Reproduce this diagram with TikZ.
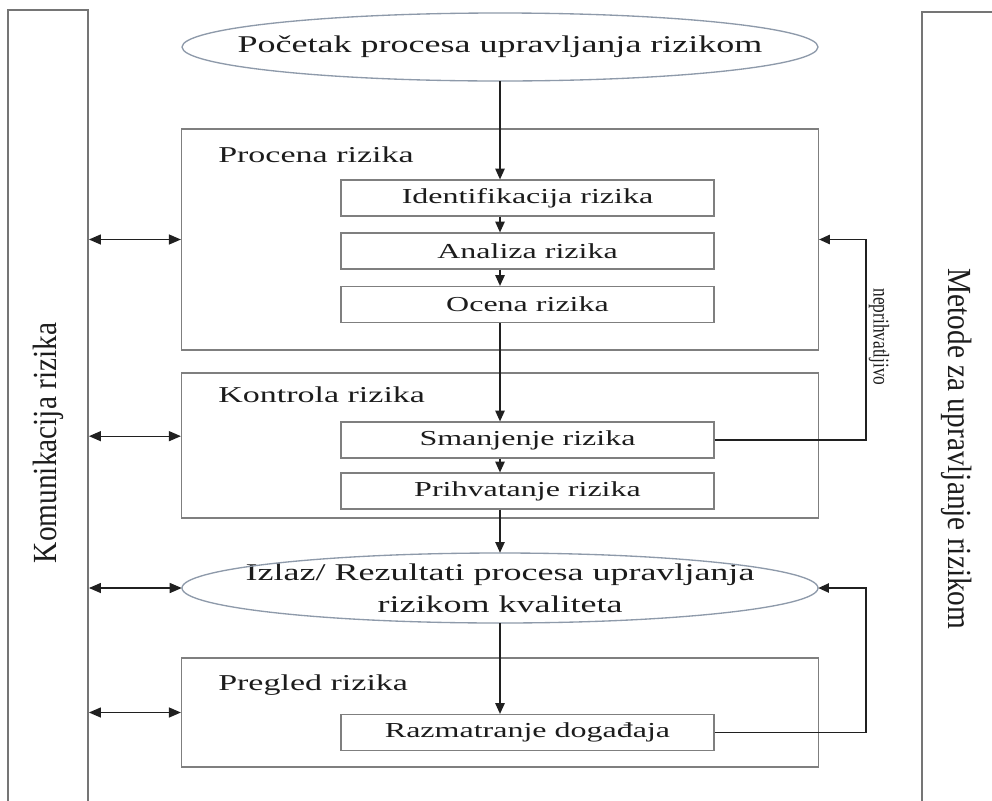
\documentclass[tikz,border=0pt]{standalone}
\usepackage{fontspec}
\setmainfont{Liberation Serif}[FakeStretch=1.5]
\newfontfamily\sidefont{Liberation Serif}
\usetikzlibrary{arrows.meta}
\definecolor{frame}{HTML}{7F7F7F}
\definecolor{colframe}{HTML}{757575}
\definecolor{ovalline}{HTML}{8E9AAA}
\definecolor{ink}{HTML}{1C1C1C}
\definecolor{wire}{HTML}{202020}

\begin{document}
\begin{tikzpicture}[x=0.75pt,y=-0.75pt,
  every node/.style={text=ink},
  column/.style={draw=colframe,line width=1.4pt,minimum width=60pt,inner sep=0pt},
  stage/.style={draw=frame,line width=0.9pt,minimum width=477.75pt,inner sep=0pt},
  task/.style={draw=frame,line width=0.9pt,minimum width=279.75pt,minimum height=27pt,inner sep=0pt,font=\fontsize{16}{19}\selectfont},
  % the oval frame is drawn round an invisible box of the same extent
  oval/.style={inner sep=0pt,minimum width=477pt,font=\fontsize{18}{24}\selectfont,align=center},
  ovalline/.style={draw=ovalline,line width=1pt},
  heading/.style={anchor=west,inner sep=0pt,font=\fontsize{17}{20}\selectfont},
  sidetext/.style={inner sep=0pt,font=\sidefont\fontsize{22}{26}\selectfont},
  smalltext/.style={inner sep=0pt,font=\sidefont\fontsize{13}{15}\selectfont},
  flow/.style={draw=wire,line width=1pt,-{Triangle[length=8pt,width=7pt]}},
  link/.style={draw=wire,line width=1pt,{Triangle[length=9pt,width=7.5pt]}-{Triangle[length=9pt,width=7.5pt]}},
]
\clip (0,0) rectangle (992,800);
\fill[white] (0,0) rectangle (992,800);

% side columns
\node[column,minimum height=600pt] (left) at (48,410) {};
\node[column,minimum height=598.5pt] (right) at (962,411) {};
\node[sidetext,xscale=1.15,rotate=90] (komtext) at (48,443) {Komunikacija rizika};
\node[sidetext,xscale=1.15,rotate=-90] (mettext) at (957,449) {Metode za upravljanje rizikom};

% start of the process
\node[oval,minimum height=51pt] (start) at (500,47) {Početak procesa upravljanja rizikom};
\draw[ovalline] (start.center) ellipse [x radius=238.5pt, y radius=25.5pt];

% risk assessment
\node[stage,minimum height=165.75pt] (procena) at (500,239.5) {};
\node[heading] (procenatitle) at (218,155) {Procena rizika};
\node[task] (ident) at (527.5,198) {Identifikacija rizika};
\node[task] (anal) at (527.5,251) {Analiza rizika};
\node[task] (ocena) at (527.5,304.5) {Ocena rizika};

% risk control
\node[stage,minimum height=108.75pt] (kontrola) at (500,445.5) {};
\node[heading] (kontrolatitle) at (218,395) {Kontrola rizika};
\node[task] (smanj) at (527.5,440) {Smanjenje rizika};
\node[task] (prihv) at (527.5,491) {Prihvatanje rizika};

% output
\node[oval,minimum height=52.5pt] (izlaz) at (500,588) {Izlaz/ Rezultati procesa upravljanja\\rizikom kvaliteta};
\draw[ovalline] (izlaz.center) ellipse [x radius=238.5pt, y radius=26.25pt];

% risk review
\node[stage,minimum height=81.75pt] (pregled) at (500,712.5) {};
\node[heading] (pregledtitle) at (218,685) {Pregled rizika};
\node[task] (razm) at (527.5,732.5) {Razmatranje događaja};

% main flow
\coordinate (axis) at (500,0);
\draw[flow] (start.south) -- (ident.north -| axis);
\draw[flow] (ident.south -| axis) -- (anal.north -| axis);
\draw[flow] (anal.south -| axis) -- (ocena.north -| axis);
\draw[flow] (ocena.south -| axis) -- (smanj.north -| axis);
\draw[flow] (smanj.south -| axis) -- (prihv.north -| axis);
\draw[flow] (prihv.south -| axis) -- (izlaz.north);
\draw[flow] (izlaz.south) -- (razm.north -| axis);

% feedback loops
\coordinate (back) at (866,0);
\draw[flow] (smanj.east) -- (smanj.east -| back) |- (procena.east);
\draw[flow] (razm.east) -- (razm.east -| back) |- (izlaz.east);
\node[smalltext,xscale=1.3,rotate=-90] (nepr) at (879,337) {neprihvatljivo};

% communication links
\coordinate (klink) at ([yshift=7pt]kontrola.west);
\draw[link] (left.east |- procena.west) -- (procena.west);
\draw[link] (left.east |- klink) -- (klink);
\draw[link] (left.east |- izlaz.west) -- (izlaz.west);
\draw[link] (left.east |- pregled.west) -- (pregled.west);
\end{tikzpicture}
\end{document}
